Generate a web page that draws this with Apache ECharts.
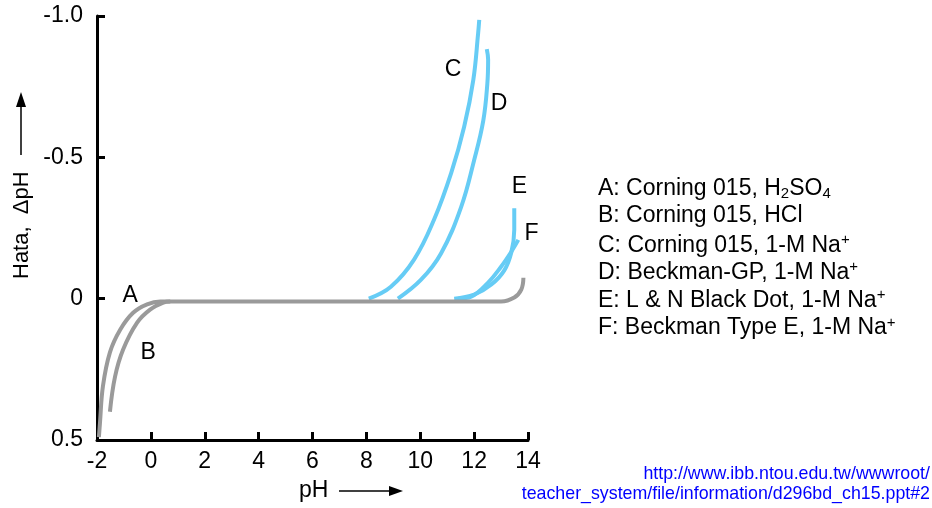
<!DOCTYPE html>
<html>
<head>
<meta charset="utf-8">
<script src="https://cdn.jsdelivr.net/npm/echarts@6/dist/echarts.min.js"></script>
<style>
html, body { margin: 0; padding: 0; background: #fff; }
#main { width: 932px; height: 508px; }
</style>
</head>
<body>
<div id="main"></div>
<script>
// curves: [pH, delta pH]
var curveA = [[-1.93, 0.49], [-1.89, 0.44], [-1.78, 0.31], [-1.52, 0.19], [-1.14, 0.11], [-0.66, 0.05],
  [-0.14, 0.02], [0.35, 0.01], [2, 0.01], [6, 0.01], [10, 0.01], [13.0, 0.01], [13.49, -0.004],
  [13.75, -0.032], [13.83, -0.074]];
var curveB = [[-1.52, 0.40], [-1.33, 0.276], [-1.03, 0.18], [-0.51, 0.085], [-0.03, 0.039], [0.46, 0.014], [0.72, 0.01]];
var curveC = [[8.09, 0.0], [8.91, -0.042], [9.77, -0.138], [10.51, -0.279], [11.15, -0.445], [11.63, -0.608],
  [11.97, -0.774], [12.15, -0.94], [12.19, -0.986]];
var curveD = [[9.17, 0.0], [10.03, -0.067], [10.77, -0.16], [11.52, -0.325], [12.0, -0.49], [12.34, -0.63],
  [12.49, -0.76], [12.52, -0.845], [12.47, -0.883]];
var curveE = [[11.26, 0.0], [12.0, -0.014], [12.64, -0.05], [13.12, -0.10], [13.38, -0.163], [13.49, -0.244], [13.49, -0.32]];
var curveF = [[11.41, 0.0], [11.89, -0.007], [12.52, -0.057], [13.0, -0.113], [13.38, -0.166], [13.64, -0.208]];

var curveLabels = [[-0.77, -0.01, 'A'], [-0.10, 0.19, 'B'], [11.22, -0.81, 'C'], [12.93, -0.69, 'D'], [13.68, -0.396, 'E'], [14.13, -0.23, 'F']];

var xMin = -2, xMax = 14, xStep = 2;
var yMin = -1.0, yMax = 0.5, yStep = 0.5;

var font = 'Liberation Sans, Arial, sans-serif';
var gray = '#9a9a9a';
var blue = '#66ccf5';
var fs = 23;

var myChart = echarts.init(document.getElementById('main'));

function curve(name, data, color) {
  return {
    name: name,
    type: 'line',
    data: data,
    smooth: 0.4,
    showSymbol: false,
    symbol: 'none',
    lineStyle: { color: color, width: 4 },
    z: color === gray ? 4 : 3,
    silent: true
  };
}

var rich = {
  t: { fontSize: fs, fontFamily: font, color: '#000', lineHeight: 26 },
  sub: { fontSize: 15, fontFamily: font, color: '#000', lineHeight: 15, verticalAlign: 'bottom' },
  sup: { fontSize: 15, fontFamily: font, color: '#000', lineHeight: 15, verticalAlign: 'top' }
};
var legendLines = [
  '{t|A: Corning 015, H}{sub|2}{t|SO}{sub|4}',
  '{t|B: Corning 015, HCl}',
  '{t|C: Corning 015, 1-M Na}{sup|+}',
  '{t|D: Beckman-GP, 1-M Na}{sup|+}',
  '{t|E: L & N Black Dot, 1-M Na}{sup|+}',
  '{t|F: Beckman Type E, 1-M Na}{sup|+}'
];
var graphics = legendLines.map(function (s, i) {
  return {
    type: 'text', left: 598, top: 177 + i * 27.6,
    style: { text: s, rich: rich }
  };
});
// axis names with arrows
graphics.push({
  type: 'text', x: 22, y: 279, rotation: Math.PI / 2,
  style: { text: 'Hata,  \u0394pH', font: '22px ' + font, fill: '#000', align: 'left', verticalAlign: 'middle' }
});
graphics.push({ type: 'line', shape: { x1: 21, y1: 155, x2: 21, y2: 104 }, style: { stroke: '#000', lineWidth: 1.5 } });
graphics.push({ type: 'polygon', shape: { points: [[21, 92], [16, 107], [26, 107]] }, style: { fill: '#000' } });
graphics.push({
  type: 'text', x: 299, y: 491,
  style: { text: 'pH', font: fs + 'px ' + font, fill: '#000', align: 'left', verticalAlign: 'middle' }
});
graphics.push({ type: 'line', shape: { x1: 339, y1: 491, x2: 392, y2: 491 }, style: { stroke: '#000', lineWidth: 1.5 } });
graphics.push({ type: 'polygon', shape: { points: [[403, 491], [389, 486], [389, 496]] }, style: { fill: '#000' } });
// source URL
var urlLines = ['http://www.ibb.ntou.edu.tw/wwwroot/', 'teacher_system/file/information/d296bd_ch15.ppt#2'];
urlLines.forEach(function (s, i) {
  graphics.push({
    type: 'text', right: 2, top: 465 + i * 20,
    style: { text: s, font: '17.8px ' + font, fill: '#0000ff' }
  });
});

var option = {
  backgroundColor: '#fff',
  animation: false,
  grid: { left: 97, right: 404, top: 16, bottom: 68 },
  xAxis: {
    type: 'value', min: xMin, max: xMax, interval: xStep,
    axisLine: { onZero: false, lineStyle: { color: '#000', width: 3 } },
    axisTick: { inside: true, length: 8, lineStyle: { color: '#000', width: 3 } },
    axisLabel: { color: '#000', fontSize: fs, fontFamily: font, margin: 10 },
    splitLine: { show: false }
  },
  yAxis: {
    type: 'value', min: yMin, max: yMax, interval: yStep, inverse: true,
    axisLine: { show: true, onZero: false, lineStyle: { color: '#000', width: 3 } },
    axisTick: { show: true, inside: true, length: 8, lineStyle: { color: '#000', width: 3 } },
    axisLabel: {
      color: '#000', fontSize: fs, fontFamily: font, margin: 14,
      formatter: function (v) { return v === 0 ? '0' : v.toFixed(1); }
    },
    splitLine: { show: false }
  },
  series: [
    curve('C', curveC, blue),
    curve('D', curveD, blue),
    curve('E', curveE, blue),
    curve('F', curveF, blue),
    curve('A', curveA, gray),
    curve('B', curveB, gray)
  ],
  graphic: graphics
};

myChart.setOption(option);

// curve letters, placed through the chart's own scales
var letterGraphics = curveLabels.map(function (d) {
  var p = myChart.convertToPixel({ gridIndex: 0 }, [d[0], d[1]]);
  return {
    type: 'text', x: p[0], y: p[1], z: 20,
    style: { text: d[2], font: fs + 'px ' + font, fill: '#000', align: 'center', verticalAlign: 'middle' }
  };
});
myChart.setOption({ graphic: graphics.concat(letterGraphics) });
</script>
</body>
</html>
